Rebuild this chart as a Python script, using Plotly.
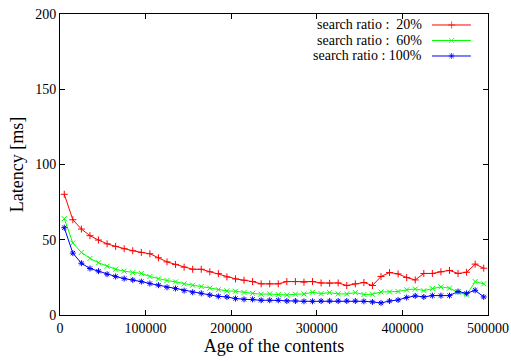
import plotly.graph_objects as go

age = [5000 + 10000 * i for i in range(50)]

ratio20 = [80.2, 63.3, 57.1, 52.7, 49.8, 47.3, 45.6, 44.0, 42.7, 41.6,
           40.7, 38.0, 35.3, 33.6, 31.8, 30.4, 30.4, 28.7, 27.5, 25.3,
           24.0, 23.1, 22.2, 20.7, 20.7, 20.7, 22.2, 22.2, 21.8, 22.2,
           21.3, 21.1, 21.3, 19.6, 20.7, 21.6, 19.6, 25.6, 28.2, 27.3,
           24.9, 23.3, 27.6, 27.6, 28.7, 29.6, 27.6, 28.4, 33.8, 31.1]

ratio60 = [64.0, 47.8, 41.6, 37.6, 34.7, 32.4, 30.4, 29.1, 28.2, 27.6,
           25.6, 24.0, 22.9, 22.0, 20.7, 19.8, 18.9, 17.8, 16.8, 16.0,
           15.8, 14.9, 14.4, 13.8, 14.0, 13.6, 13.3, 13.8, 14.0, 15.1,
           14.2, 14.9, 14.0, 14.0, 14.9, 13.6, 13.8, 15.3, 15.3, 15.6,
           16.7, 17.3, 16.2, 17.6, 18.7, 17.8, 15.1, 13.3, 22.2, 20.7]

ratio100 = [58.0, 41.1, 34.4, 30.9, 29.1, 27.1, 25.6, 24.2, 23.3, 22.2,
            20.9, 19.8, 18.4, 17.6, 16.2, 15.1, 14.4, 13.3, 12.4, 12.0,
            10.9, 10.4, 10.4, 9.8, 9.8, 9.8, 9.3, 9.3, 9.1, 9.1,
            9.3, 9.3, 9.3, 9.3, 9.3, 9.1, 8.7, 8.0, 9.3, 10.0,
            11.6, 12.7, 12.0, 12.9, 12.9, 12.9, 15.6, 14.4, 16.4, 12.0]

labels = ["search ratio : \u00a020%", "search ratio : \u00a060%", "search ratio : 100%"]
colors = ["#ff0000", "#00ff00", "#0000ff"]
symbols = ["cross-thin", "x-thin", "asterisk-open"]
series = [ratio20, ratio60, ratio100]

x_ticks = [0, 100000, 200000, 300000, 400000, 500000]
y_ticks = [0, 50, 100, 150, 200]

FONT = "Liberation Serif"

fig = go.Figure()
for lab, col, sym, ys in zip(labels, colors, symbols, series):
    fig.add_trace(go.Scatter(
        x=age, y=ys, mode="lines+markers", name=lab,
        line=dict(color=col, width=1),
        marker=dict(symbol=sym, size=5, color=col, line=dict(color=col, width=1)),
        showlegend=False,
    ))

# legend keys (gnuplot style: text on the left, sample on the right)
leg_rows = [0.9635, 0.912, 0.8605]
for lab, col, sym, yy in zip(labels, colors, symbols, leg_rows):
    fig.add_trace(go.Scatter(
        x=[0.869, 0.915, 0.960], y=[yy, yy, yy], xaxis="x2", yaxis="y2",
        mode="lines+markers", showlegend=False, hoverinfo="skip",
        line=dict(color=col, width=1),
        marker=dict(symbol=sym, size=[0, 5, 0], color=col, line=dict(color=col, width=1)),
    ))
    fig.add_annotation(x=0.848, y=yy, xref="paper", yref="paper", text=lab,
                       showarrow=False, xanchor="right", yanchor="middle",
                       borderpad=0,
                       font=dict(family=FONT, size=14, color="black"))

axis_common = dict(showline=True, linecolor="black", linewidth=1, mirror="ticks",
                   ticks="inside", ticklen=5, tickcolor="black", showgrid=False,
                   zeroline=False, tickfont=dict(family=FONT, size=14, color="black"))

fig.update_layout(
    width=511, height=362,
    margin=dict(l=60, r=23, t=14, b=47, autoexpand=False),
    paper_bgcolor="white", plot_bgcolor="white",
    xaxis=dict(range=[0, 500000], tickvals=x_ticks, ticktext=[str(v) for v in x_ticks],
               title=dict(text="Age of the contents", font=dict(family=FONT, size=18, color="black"), standoff=0),
               **axis_common),
    yaxis=dict(range=[0, 200], tickvals=y_ticks, ticktext=[str(v) for v in y_ticks],
               title=dict(text="Latency [ms]", font=dict(family=FONT, size=18, color="black"), standoff=6),
               **axis_common),
    xaxis2=dict(range=[0, 1], overlaying="x", visible=False, fixedrange=True),
    yaxis2=dict(range=[0, 1], overlaying="y", visible=False, fixedrange=True),
)

fig.write_html("out.html")
